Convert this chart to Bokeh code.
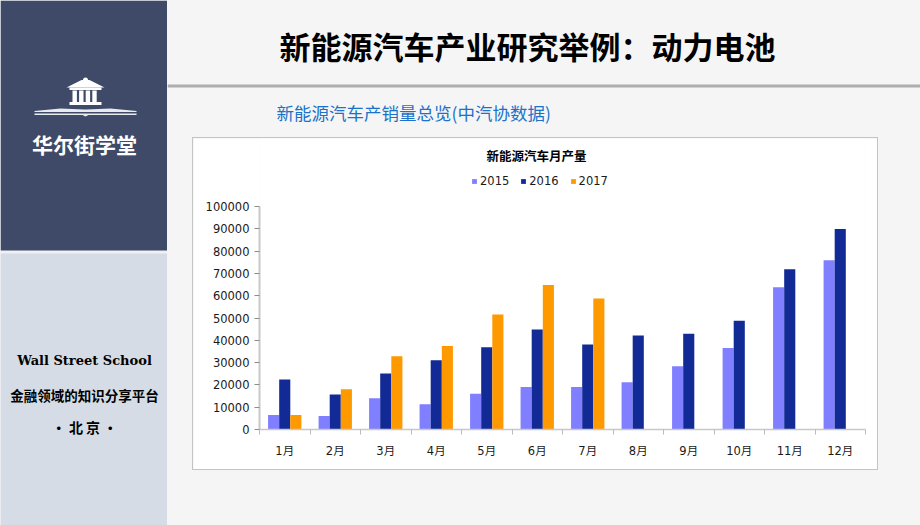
from bokeh.plotting import figure
from bokeh.models import (Range1d, FixedTicker, LinearAxis, Label, Legend, LegendItem,
                          ColumnDataSource, Spacer, NumeralTickFormatter)
from bokeh.layouts import row, column
from bokeh.transform import dodge
from bokeh.embed import file_html
from bokeh.resources import INLINE

# ---------------- data ----------------
months = ["1月", "2月", "3月", "4月", "5月", "6月", "7月", "8月", "9月", "10月", "11月", "12月"]
years = ["2015", "2016", "2017"]
prod_2015 = [6500, 6100, 14000, 11300, 16000, 19100, 19100, 21200, 28400, 36600, 63800, 75900]
prod_2016 = [22400, 15700, 25100, 31100, 36900, 44800, 38100, 42100, 42900, 48800, 71900, 89900]
prod_2017 = [6500, 18100, 32900, 37400, 51600, 64800, 58800, None, None, None, None, None]
y_ticks = [0, 10000, 20000, 30000, 40000, 50000, 60000, 70000, 80000, 90000, 100000]

page_title = "新能源汽车产业研究举例：动力电池"
sub_title = "新能源汽车产销量总览(中汽协数据)"
chart_title = "新能源汽车月产量"
brand = "华尔街学堂"
school_en = "Wall Street School"
slogan = "金融领域的知识分享平台"
city = "• 北 京 •"

colors = ["#7F7FFF", "#122A96", "#FF9900"]
CJK = "Noto Sans CJK SC"
NUM = "DejaVu Sans, Noto Sans CJK SC"
BG = "#F5F5F5"
BOX = "#C4C4C4"

# ---------------- left panel ----------------
left = figure(width=167, height=525, x_range=Range1d(0, 167), y_range=Range1d(525, 0),
              x_axis_type=None, y_axis_type=None, toolbar_location=None,
              output_backend="svg", min_border=0, outline_line_color=None,
              background_fill_color="#EEF0F4", border_fill_color="#EEF0F4")
left.grid.visible = False
left.quad(left=0, right=167, top=0, bottom=250, fill_color="#3E4A68", line_color=None)
left.quad(left=0, right=167, top=253, bottom=525, fill_color="#D6DCE5", line_color=None)
# logo: temple + book
left.patch(x=[66, 81, 89, 104], y=[87, 79.5, 79.5, 87], fill_color="white", line_color=None)
left.circle(x=85, y=79.5, radius=2.5, fill_color="white", line_color=None)
left.quad(left=69, right=101, top=87, bottom=89.5, fill_color="white", line_color=None)
left.quad(left=[72, 78.6, 85.2, 91.8], right=[76.4, 83, 89.6, 96.2], top=90, bottom=101.5,
          fill_color="white", line_color=None)
left.quad(left=69, right=101, top=101.5, bottom=104.5, fill_color="white", line_color=None)
left.patch(x=[34, 60, 84, 86, 110, 136, 136, 86, 84, 34],
           y=[110.5, 108, 109, 109, 108, 110.5, 111.5, 111.5, 111.5, 111.5],
           fill_color="#E8EAEE", line_color=None)
left.patch(x=[34, 136, 136, 88, 85, 82, 34],
           y=[113, 113, 114.5, 114.5, 116, 114.5, 114.5],
           fill_color="#E8EAEE", line_color=None)
left.add_layout(Label(x=84, y=143, text=brand, text_align="center", text_baseline="middle",
                      text_font=CJK, text_font_style="bold", text_font_size="21px",
                      text_color="white"))
left.add_layout(Label(x=84, y=360, text=school_en, text_align="center", text_baseline="middle",
                      text_font="DejaVu Serif", text_font_style="bold", text_font_size="13px",
                      text_color="black"))
left.add_layout(Label(x=84, y=394, text=slogan, text_align="center", text_baseline="middle",
                      text_font=CJK, text_font_style="bold", text_font_size="13.5px",
                      text_color="black"))
left.add_layout(Label(x=84, y=426, text=city, text_align="center", text_baseline="middle",
                      text_font=CJK, text_font_style="bold", text_font_size="14px",
                      text_color="black"))

# ---------------- header ----------------
header = figure(width=753, height=137, x_range=Range1d(167, 920), y_range=Range1d(137, 0),
                x_axis_type=None, y_axis_type=None, toolbar_location=None,
                output_backend="svg", min_border=0, outline_line_color=None,
                background_fill_color=BG, border_fill_color=BG)
header.grid.visible = False
header.quad(left=167, right=920, top=84, bottom=87, fill_color="#ADADAD", line_color=None)
header.add_layout(Label(x=527, y=45, text=page_title, text_align="center", text_baseline="middle",
                        text_font=CJK, text_font_style="bold", text_font_size="31px",
                        text_color="black"))
header.add_layout(Label(x=276, y=112, text=sub_title, text_align="left", text_baseline="middle",
                        text_font=CJK, text_font_size="17.5px", text_color="#1B72C8"))

# ---------------- chart ----------------
# canvas: page x 193..877, y 138..469 ; frame: page x 259..865, y 138..429
# value 0 at page y=429, 100000 at page y=206
y_top_value = 100000 * (429 - 138) / (429 - 206)
chart = figure(width=684, height=331, x_range=Range1d(0, 12), y_range=Range1d(0, y_top_value),
               x_axis_type=None, y_axis_type=None, toolbar_location=None,
               output_backend="svg", outline_line_color=None,
               min_border_left=66, min_border_right=12, min_border_top=0, min_border_bottom=40,
               background_fill_color="white", border_fill_color="white")
chart.extra_x_ranges = {"px": Range1d(259, 865)}
chart.extra_y_ranges = {"py": Range1d(429, 138)}

xcenters = [i + 0.5 for i in range(len(months))]
renderers = []
for k, (yr, vals) in enumerate(zip(years, [prod_2015, prod_2016, prod_2017])):
    xs = [xc for xc, v in zip(xcenters, vals) if v is not None]
    tops = [v for v in vals if v is not None]
    src = ColumnDataSource(dict(x=xs, top=tops))
    r = chart.vbar(x=dodge("x", (k - 1) * 0.22), top="top", bottom=0, width=0.22, source=src,
                   fill_color=colors[k], line_color=None)
    renderers.append(r)

yaxis = LinearAxis(ticker=FixedTicker(ticks=y_ticks, minor_ticks=[]),
                   formatter=NumeralTickFormatter(format="0"), bounds=(0, 100000))
yaxis.axis_line_color = "#C8C8C8"
yaxis.axis_line_width = 2
yaxis.major_tick_line_color = "#8C8C8C"
yaxis.major_tick_out = 5
yaxis.major_tick_in = 0
yaxis.major_label_standoff = 5
yaxis.major_label_text_font = NUM
yaxis.major_label_text_font_size = "11.5px"
yaxis.major_label_text_color = "#1A1A1A"
chart.add_layout(yaxis, "left")

xaxis = LinearAxis(ticker=FixedTicker(ticks=xcenters, minor_ticks=list(range(len(months) + 1))))
xaxis.major_label_overrides = {xc: m for xc, m in zip(xcenters, months)}
xaxis.axis_line_color = "#C8C8C8"
xaxis.axis_line_width = 1.5
xaxis.major_tick_line_color = None
xaxis.major_tick_out = 5
xaxis.major_tick_in = 0
xaxis.minor_tick_line_color = "#BBBBBB"
xaxis.minor_tick_out = 5
xaxis.minor_tick_in = 0
xaxis.major_label_standoff = 9
xaxis.major_label_text_font = NUM
xaxis.major_label_text_font_size = "11.5px"
xaxis.major_label_text_color = "#1A1A1A"
chart.add_layout(xaxis, "below")

chart.ygrid.ticker = FixedTicker(ticks=y_ticks)
chart.ygrid.grid_line_color = "#8C8C8C"
chart.xgrid.visible = False

legend = Legend(items=[LegendItem(label=y, renderers=[r]) for y, r in zip(years, renderers)],
                orientation="horizontal", location=(212, 241),
                glyph_width=6, glyph_height=6, label_standoff=3, spacing=11,
                padding=0, margin=0, border_line_color=None, background_fill_alpha=0,
                label_text_font="DejaVu Sans", label_text_font_size="11.5px",
                label_text_color="#1A1A1A", label_height=6)
chart.add_layout(legend)

chart.add_layout(Label(x=536, y=155, x_range_name="px", y_range_name="py", text=chart_title,
                       text_align="center", text_baseline="middle", text_font=CJK,
                       text_font_style="bold", text_font_size="12.5px", text_color="black"))


def strip(w, h):
    return Spacer(width=w, height=h, styles={"background-color": BOX})


boxed = column(strip(686, 1),
               row(strip(1, 331), chart, strip(1, 331)),
               strip(686, 1))

page = row(left, column(header,
                        row(Spacer(width=25, height=333), boxed, Spacer(width=42, height=333)),
                        Spacer(width=753, height=55)))

html = file_html(page, INLINE, title="新能源汽车月产量")
html = html.replace("</head>",
                    "<style>html,body{margin:0;padding:0;background:#F5F5F5;overflow:hidden;}</style></head>", 1)
open("out.html", "w").write(html)
